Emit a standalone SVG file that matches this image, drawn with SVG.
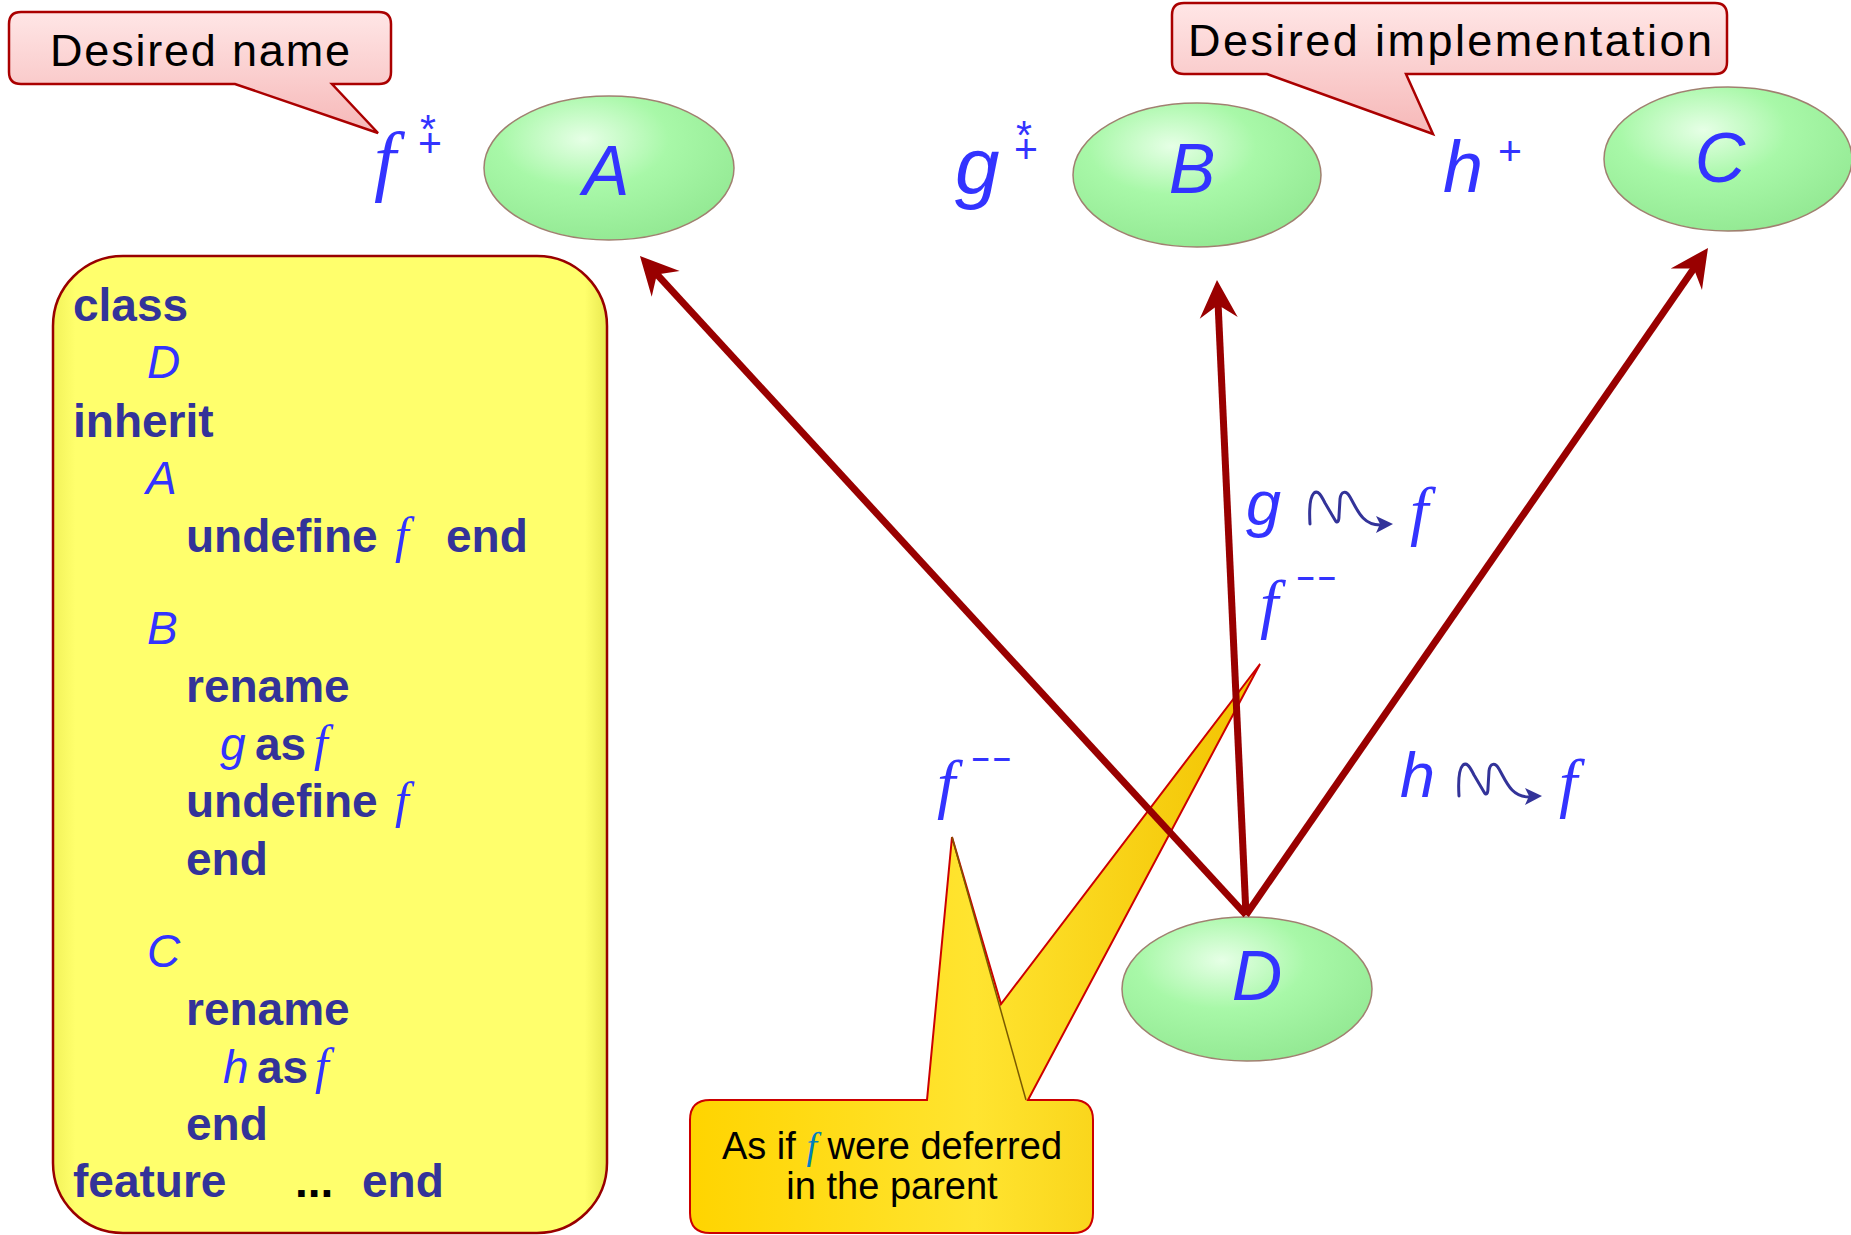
<svg xmlns="http://www.w3.org/2000/svg" width="1851" height="1235" viewBox="0 0 1851 1235">
<defs>
  <radialGradient id="gGreen" cx="0.4" cy="0.3" r="0.75">
    <stop offset="0" stop-color="#e6ffe6"/>
    <stop offset="0.45" stop-color="#a8f8a8"/>
    <stop offset="1" stop-color="#92e892"/>
  </radialGradient>
  <linearGradient id="gPink" x1="0" y1="0" x2="0" y2="1">
    <stop offset="0" stop-color="#ffe6e6"/>
    <stop offset="1" stop-color="#f6b8b8"/>
  </linearGradient>
  <linearGradient id="gYellow" x1="0" y1="0" x2="1" y2="0">
    <stop offset="0" stop-color="#f2f25a"/>
    <stop offset="0.04" stop-color="#ffff6c"/>
    <stop offset="0.96" stop-color="#ffff6c"/>
    <stop offset="1" stop-color="#e8e850"/>
  </linearGradient>
  <linearGradient id="gGold" x1="0" y1="0" x2="1" y2="0">
    <stop offset="0" stop-color="#ffd400"/>
    <stop offset="0.5" stop-color="#ffe430"/>
    <stop offset="1" stop-color="#f2c200"/>
  </linearGradient>
  <marker id="ah" markerUnits="userSpaceOnUse" markerWidth="60" markerHeight="60" viewBox="-30 -30 60 60" refX="0" refY="0" orient="auto">
    <path d="M20,0 L-18,-19 L-5,0 L-18,19 Z" fill="#990000"/>
  </marker>
  <style>
    .node { fill: url(#gGreen); stroke: #a08070; stroke-width: 1.5; }
    .nl { font-family: "Liberation Sans", Arial, sans-serif; font-style: italic; font-size: 70px; fill: #3333ff; text-anchor: middle; }
    .kw { font-family: "Liberation Sans", Arial, sans-serif; font-weight: bold; font-size: 46px; fill: #333399; }
    .id { font-family: "Liberation Sans", Arial, sans-serif; font-style: italic; font-size: 46px; fill: #3333ff; }
    .fi { font-family: "Liberation Serif", "Times New Roman", serif; font-style: italic; font-size: 50px; fill: #3333ff; }
    .lab { font-family: "Liberation Sans", Arial, sans-serif; font-style: italic; fill: #3333ff; }
    .labf { font-family: "Liberation Serif", "Times New Roman", serif; font-style: italic; fill: #3333ff; }
    .sup { font-family: "Liberation Sans", Arial, sans-serif; fill: #3333ff; text-anchor: middle; }
    .dash { font-family: "Liberation Sans", Arial, sans-serif; font-weight: bold; fill: #3333ff; font-size: 31px; letter-spacing: 4px; }
    .call { font-family: "Liberation Sans", Arial, sans-serif; fill: #000; }
    .conn { stroke: #990000; stroke-width: 7; fill: none; marker-end: url(#ah); }
    .sq { stroke: #333399; stroke-width: 3; fill: none; stroke-linecap: round; stroke-linejoin: round; }
  </style>
</defs>
<rect width="1851" height="1235" fill="#ffffff"/>

<g id="code-box">
  <rect x="53" y="256" width="554" height="977" rx="70" fill="url(#gYellow)" stroke="#990000" stroke-width="2.5"/>
  <text class="kw" x="73" y="321">class</text>
  <text class="id" x="147" y="378">D</text>
  <text class="kw" x="73" y="437">inherit</text>
  <text class="id" x="146" y="494">A</text>
  <text class="kw" x="186" y="552">undefine</text>
  <text class="fi" x="395" y="552">f</text>
  <text class="kw" x="446" y="552">end</text>
  <text class="id" x="147" y="644">B</text>
  <text class="kw" x="186" y="702">rename</text>
  <text class="id" x="220" y="760">g</text>
  <text class="kw" x="255" y="760">as</text>
  <text class="fi" x="314" y="760">f</text>
  <text class="kw" x="186" y="817">undefine</text>
  <text class="fi" x="395" y="817">f</text>
  <text class="kw" x="186" y="875">end</text>
  <text class="id" x="147" y="967">C</text>
  <text class="kw" x="186" y="1025">rename</text>
  <text class="id" x="223" y="1083">h</text>
  <text class="kw" x="257" y="1083">as</text>
  <text class="fi" x="315" y="1083">f</text>
  <text class="kw" x="186" y="1140">end</text>
  <text class="kw" x="73" y="1197">feature</text>
  <text class="kw" x="295" y="1197" style="fill:#000">...</text>
  <text class="kw" x="362" y="1197">end</text>
</g>

<g id="callout-desired-name">
  <path d="M21,12 H379 Q391,12 391,24 V72 Q391,84 379,84 H332 L378,133 L235,84 H21 Q9,84 9,72 V24 Q9,12 21,12 Z" fill="url(#gPink)" stroke="#aa0000" stroke-width="2.5"/>
  <text class="call" x="50" y="66" font-size="45" textLength="300" lengthAdjust="spacing">Desired name</text>
</g>

<g id="callout-desired-implementation">
  <path d="M1184,3 H1715 Q1727,3 1727,15 V62 Q1727,74 1715,74 H1406 L1433,134 L1267,74 H1184 Q1172,74 1172,62 V15 Q1172,3 1184,3 Z" fill="url(#gPink)" stroke="#aa0000" stroke-width="2.5"/>
  <text class="call" x="1188" y="56" font-size="45" textLength="524" lengthAdjust="spacing">Desired implementation</text>
</g>

<g id="node-A">
  <ellipse class="node" cx="609" cy="168" rx="125" ry="72"/>
  <text class="nl" x="606" y="195">A</text>
</g>
<g id="node-B">
  <ellipse class="node" cx="1197" cy="175" rx="124" ry="72"/>
  <text class="nl" x="1192" y="193">B</text>
</g>
<g id="node-C">
  <ellipse class="node" cx="1728" cy="159" rx="124" ry="72"/>
  <text class="nl" x="1720" y="182">C</text>
</g>
<g id="node-D">
  <ellipse class="node" cx="1247" cy="989" rx="125" ry="72"/>
  <text class="nl" x="1257" y="1000">D</text>
</g>

<g id="labels-top">
  <text class="labf" x="374" y="186" font-size="79">f</text>
  <text class="sup" font-size="41"><tspan x="428" y="143">*</tspan><tspan x="430" y="157">+</tspan></text>
  <text class="lab" x="955" y="193" font-size="80">g</text>
  <text class="sup" font-size="41"><tspan x="1024" y="149">*</tspan><tspan x="1026" y="163">+</tspan></text>
  <text class="lab" x="1443" y="192" font-size="72">h</text>
  <text class="sup" x="1510" y="165" font-size="41">+</text>
</g>

<g id="callout-deferred">
  <path d="M710,1100 H927 L952,837 L1001,1004 L1260,664 L1028,1100 H1073 Q1093,1100 1093,1120 V1213 Q1093,1233 1073,1233 H710 Q690,1233 690,1213 V1120 Q690,1100 710,1100 Z" fill="url(#gGold)" stroke="#cc0000" stroke-width="2"/>
  <path d="M952,837 L1026,1100" stroke="#7a5a00" stroke-width="1.5" fill="none"/>
  <text class="call" x="892" y="1159" font-size="38" text-anchor="middle">As if <tspan font-family="Liberation Serif, serif" font-style="italic" fill="#0080c0">f</tspan> were deferred</text>
  <text class="call" x="892" y="1199" font-size="38" text-anchor="middle">in the parent</text>
</g>

<g id="labels-rename">
  <text class="lab" x="1246" y="525" font-size="63">g</text>
  <g id="squiggle-g">
    <path class="sq" d="M1310,524 C1309,508 1310,497 1314,493 C1318,490 1321,495 1325,503 L1335,520 C1337,524 1339,522 1339,516 L1340,499 C1341,491 1346,490 1350,497 C1357,509 1362,525 1380,525"/>
    <path d="M1376,516 L1393,524 L1376,533 L1380,524 Z" fill="#333399"/>
  </g>
  <text class="labf" x="1410" y="533" font-size="66">f</text>

  <text class="labf" x="1260" y="626" font-size="66">f</text>
  <text class="dash" x="1297" y="587">––</text>

  <text class="labf" x="937" y="806" font-size="66">f</text>
  <text class="dash" x="972" y="768">––</text>

  <text class="lab" x="1400" y="797" font-size="63">h</text>
  <g id="squiggle-h" transform="translate(149,272)">
    <path class="sq" d="M1310,524 C1309,508 1310,497 1314,493 C1318,490 1321,495 1325,503 L1335,520 C1337,524 1339,522 1339,516 L1340,499 C1341,491 1346,490 1350,497 C1357,509 1362,525 1380,525"/>
    <path d="M1376,516 L1393,524 L1376,533 L1380,524 Z" fill="#333399"/>
  </g>
  <text class="labf" x="1559" y="805" font-size="66">f</text>
</g>

<g id="connectors">
  <path class="conn" d="M1246,915 L653.5,270.7"/>
  <path class="conn" d="M1246,915 L1217.9,300"/>
  <path class="conn" d="M1246,915 L1696.6,264.4"/>
</g>
</svg>
